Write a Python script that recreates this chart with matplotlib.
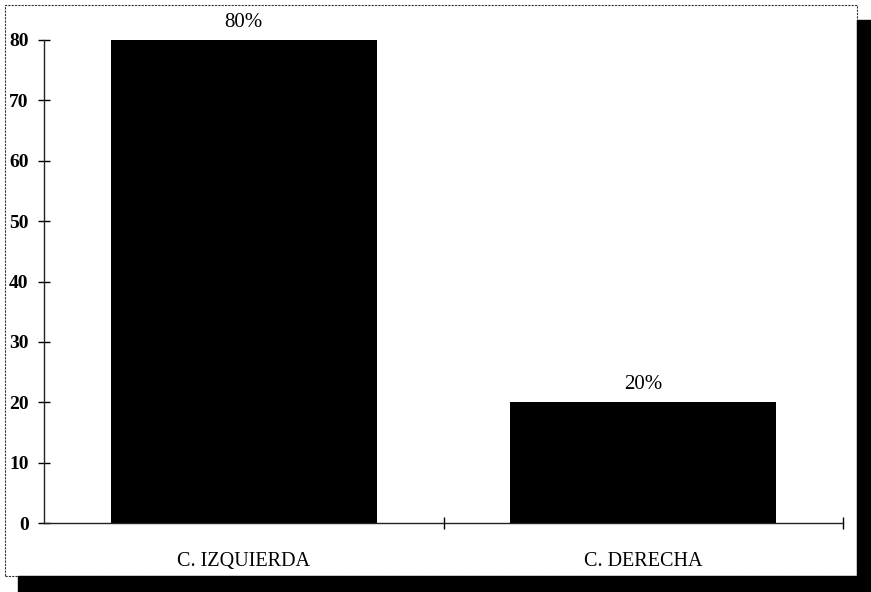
import matplotlib
matplotlib.use("Agg")
import matplotlib.pyplot as plt
from matplotlib.patches import Rectangle

# datos de la grafica
categorias = ["C. IZQUIERDA", "C. DERECHA"]
porcentajes = [80, 20]
etiquetas = ["80%", "20%"]
yticks = [0, 10, 20, 30, 40, 50, 60, 70, 80]

W, H = 871, 592
plt.rcParams['font.family'] = ['Liberation Serif', 'DejaVu Serif']

fig = plt.figure(figsize=(W / 100, H / 100), dpi=100)
fig.patch.set_facecolor('white')

# ejes
ax = fig.add_axes([44 / W, 1 - 523 / H, (843 - 44) / W, (523 - 40) / H])
x = list(range(len(categorias)))
barras = ax.bar(x, porcentajes, width=0.667, color='black')
ax.set_xlim(-0.5, len(categorias) - 0.5)
ax.set_ylim(0, 80)

for b, txt in zip(barras, etiquetas):
    ax.annotate(txt, (b.get_x() + b.get_width() / 2, b.get_height()),
                xytext=(0, 6), textcoords='offset points',
                ha='center', va='bottom', fontsize=15)

ax.set_yticks(yticks)
ax.set_yticklabels([str(v) for v in yticks], fontsize=14, fontweight='bold')
ax.set_xticks([0.5, 1.5])
ax.set_xticklabels([])
ax.tick_params(axis='both', direction='inout', length=8, width=1, color='black')
ax.tick_params(axis='y', pad=7)
for i, c in enumerate(categorias):
    ax.annotate(c, (i, 0), xytext=(0, -21), textcoords='offset points',
                ha='center', va='top', fontsize=14.5)

for s in ['top', 'right']:
    ax.spines[s].set_visible(False)
for s in ['left', 'bottom']:
    ax.spines[s].set_linewidth(1)
    ax.spines[s].set_color('#222222')

# marco y sombra
fig.patches.append(Rectangle((5 / W, 1 - 576 / H), (857 - 5) / W, (576 - 5) / H,
                             transform=fig.transFigure, fill=False,
                             edgecolor='#333333', linewidth=0.8, linestyle=(0, (2, 1))))
fig.patches.append(Rectangle((857 / W, 0), (W - 857) / W, (H - 20) / H,
                             transform=fig.transFigure, color='black'))
fig.patches.append(Rectangle((18 / W, 0), (W - 18) / W, (H - 576) / H,
                             transform=fig.transFigure, color='black'))

fig.savefig('out.png', dpi=100)
